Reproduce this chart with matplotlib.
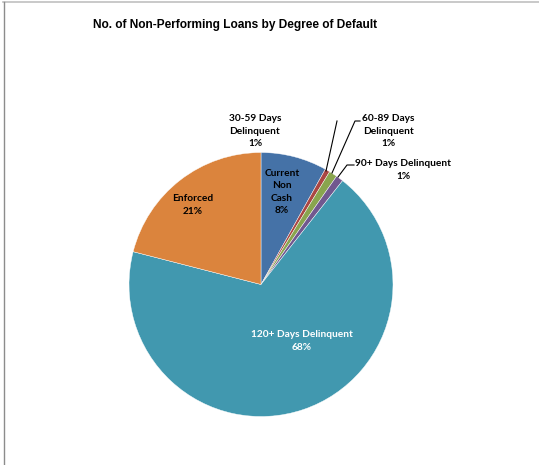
import matplotlib
matplotlib.use("Agg")
import matplotlib.pyplot as plt
from matplotlib.lines import Line2D

# share of non-performing loans, in percent
categories = ["Current\nNon\nCash", "30-59 Days\nDelinquent", "60-89 Days\nDelinquent",
              "90+ Days Delinquent", "120+ Days Delinquent", "Enforced"]
shares = [8.1, 0.6, 1.0, 0.9, 68.4, 21.0]
colors = ["#4572A7", "#AA4643", "#89A54E", "#71588F", "#4198AF", "#DB843D"]

W, H = 539, 465
fig = plt.figure(figsize=(W / 100, H / 100), dpi=100)
ax = fig.add_axes([0, 0, 1, 1])

def py(y):
    # pixel rows count from the top
    return H - y

cx, cy, r = 261, py(284.5), 132
ax.pie(shares, colors=colors, startangle=90, counterclock=False,
       center=(cx, cy), radius=r, frame=True,
       wedgeprops=dict(edgecolor="white", linewidth=0.3))
ax.set_xlim(0, W)
ax.set_ylim(0, H)
ax.axis("off")

label_font = dict(family=["Lato", "DejaVu Sans"], fontweight="bold", fontsize=7.3,
                  ha="center", va="center", linespacing=1.5)

# label anchor points (pixels) and text colour
label_pos = [(282, 192), (255, 131), (388, 131), (403, 170), (302, 341), (193, 205)]
label_col = ["black", "black", "black", "black", "white", "black"]

for name, val, (x, y), c in zip(categories, shares, label_pos, label_col):
    ax.text(x, py(y), f"{name}\n{round(val):.0f}%", color=c, **label_font)

# leader lines for the thin slices
leaders = [
    [(326, 171), (337, 121)],
    [(332, 173), (355, 121), (360, 121)],
    [(338, 177), (347, 165), (354, 165)],
]
for pts in leaders:
    xs = [p[0] for p in pts]
    ys = [py(p[1]) for p in pts]
    ax.add_line(Line2D(xs, ys, color="black", linewidth=0.8))

fig.text(235 / W, 1 - 25 / H, "No. of Non-Performing Loans by Degree of Default",
         family=["Liberation Sans", "DejaVu Sans"], fontweight="bold", fontsize=8.55,
         ha="center", va="center")

# chart area border (top and left edges)
ax.add_line(Line2D([3, W], [py(2.5), py(2.5)], color="#c0c0c0", linewidth=1.2))
ax.add_line(Line2D([3.5, 3.5], [0, py(2.5)], color="#8c8c8c", linewidth=1.0))

fig.savefig("out.png", dpi=100)
